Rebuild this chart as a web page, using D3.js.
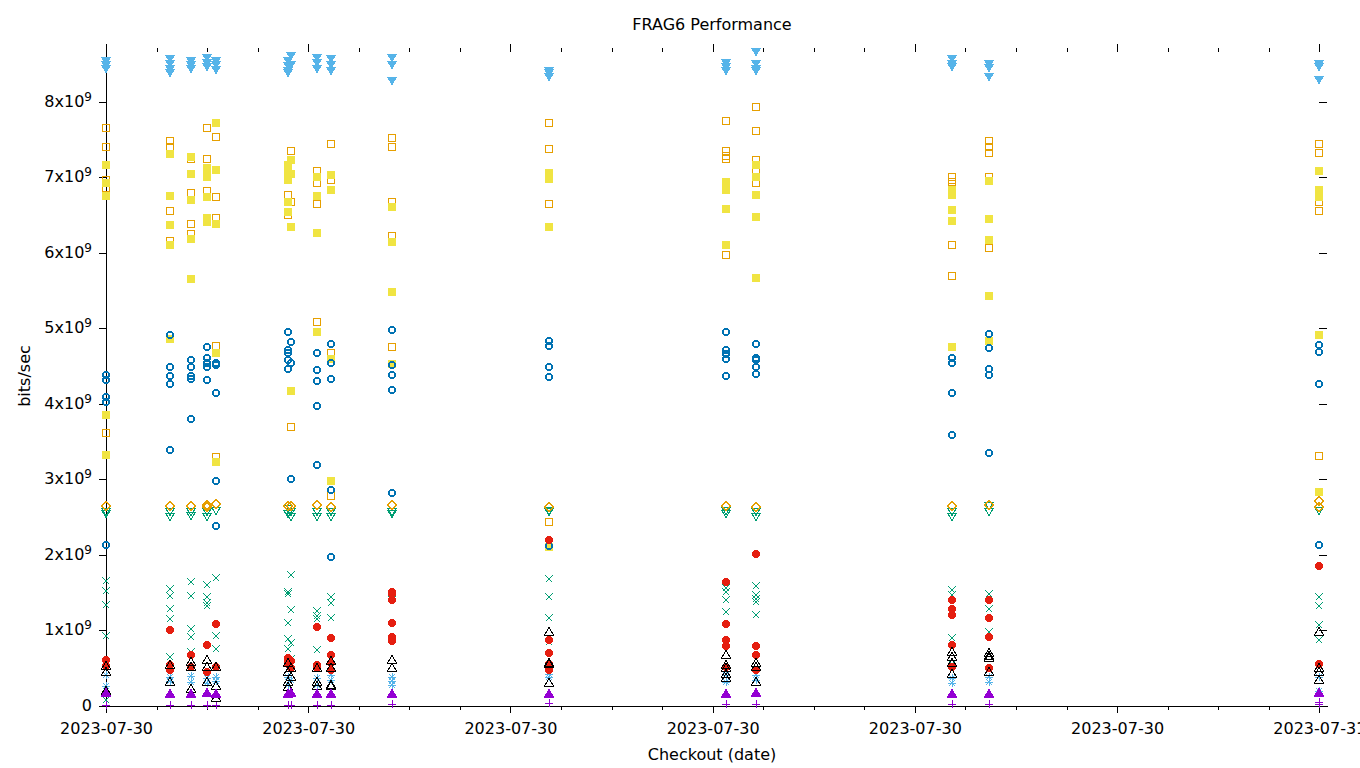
<!DOCTYPE html>
<html><head><meta charset="utf-8">
<script src="https://cdn.jsdelivr.net/npm/d3@7"></script>
<style>
html,body{margin:0;padding:0;background:#fff;}
text{font-family:"DejaVu Sans",sans-serif;fill:#000;}
</style></head>
<body>
<svg id="chart" width="1360" height="768"></svg>
<script>
// ---- data (values in units of 1e9 bits/sec) ----
const checkoutTimes = [
  "2023-07-30T00:00:00","2023-07-30T01:16:00","2023-07-30T01:41:00","2023-07-30T02:00:00",
  "2023-07-30T02:11:00","2023-07-30T03:36:00","2023-07-30T03:40:00","2023-07-30T04:10:00",
  "2023-07-30T04:27:00","2023-07-30T05:40:00","2023-07-30T08:46:00","2023-07-30T12:16:00",
  "2023-07-30T12:52:00","2023-07-30T16:44:00","2023-07-30T17:28:00","2023-07-31T00:00:00"
];
const yTickValues = [0,1,2,3,4,5,6,7,8];
const yTickLabels = ["0","1x10","2x10","3x10","4x10","5x10","6x10","7x10","8x10"];
const yTickExp = ["","9","9","9","9","9","9","9","9"];

const s1 = [[0.01],[0.01],[0.01],[0.01],[0.01],[0.01],[0.01],[0.01],[0.01],[0.02],[0.04],[0.03],[0.03],[0.03],[0.03],[0.05,0.02]];
const s2 = [[1.65,1.52,1.34,0.93,0.08],[1.55,1.46,1.28,1.15,0.65],[1.64,1.46,1.02,0.92,0.72],[1.60,1.45,1.36,1.32],
  [1.69,0.93,0.75],[1.51,1.48,1.10,0.89,0.75],[1.73,1.27,0.83,0.62],[1.26,1.19,1.15,0.74],
  [1.45,1.36,1.17],[1.40],[1.68,1.44,1.16,0.85],[1.56,1.51,1.40,1.24],
  [1.59,1.47,1.42,1.38,1.21],[1.54,1.47,0.90,0.55],[1.49,1.29,0.98],[1.45,1.32,1.07,0.88]];
const s3 = [[0.41,0.26],[0.38,0.33],[0.40,0.32],[0.37,0.30],[0.39,0.33],[0.38,0.28],[0.35],[0.37,0.28],
  [0.41,0.34],[0.38,0.33,0.28],[0.43,0.39],[0.41,0.32],[0.41,0.35],[0.37,0.30],[0.39,0.32],[0.39,0.20]];
const s4 = [[7.66,7.41,6.97,6.86,3.61],[7.48,7.40,6.55,6.16],[7.24,6.80,6.39,6.25],[7.65,7.25,6.82],
  [7.53,6.74,6.47,4.77,3.30],[6.77,6.50],[7.35,6.68,3.70],[7.08,6.93,6.65,5.08],
  [7.45,6.97,4.67,2.78],[7.52,7.41,6.68,6.22,4.75],[7.72,7.38,6.65,2.44],[7.75,7.35,7.29,7.24,5.97],
  [7.93,7.62,7.23,7.08,6.93],[7.00,6.94,6.88,6.11,5.70],[7.48,7.41,7.32,7.00,6.06],[7.44,7.32,6.68,6.56,3.31]];
const s5 = [[7.17,6.93,6.75,3.85,3.33],[7.31,6.75,6.37,6.10,4.86],[7.27,7.04,6.70,6.18,5.66],[7.12,7.05,7.01,6.74,6.46,6.41],
  [7.72,7.10,6.38,4.68,3.23],[7.17,7.07,6.97,6.67,6.54],[7.23,7.05,6.35,4.17],[7.01,6.75,6.26,4.96],
  [7.03,6.83,4.60,2.98],[6.61,6.15,5.48,4.53],[7.06,6.98,6.34,2.11],[6.94,6.88,6.83,6.58,6.11],
  [7.17,7.01,6.77,6.48,5.67],[6.83,6.77,6.57,6.43,4.76],[6.95,6.45,6.17,5.43,4.83],[7.09,6.83,6.74,4.91,2.83]];
const s6 = [[4.39,4.32,4.09,4.03,2.13],[4.92,4.49,4.37,4.26,3.39],[4.58,4.49,4.37,4.33,3.80],[4.75,4.61,4.54,4.49,4.32],
  [4.54,4.52,4.15,2.98,2.38],[4.95,4.71,4.67,4.58,4.47],[4.82,4.54,3.01],[4.68,4.45,4.30,3.97,3.19],
  [4.80,4.54,4.33,2.86,1.98],[4.98,4.52,4.39,4.18,2.82],[4.83,4.77,4.49,4.36,2.12],[4.96,4.72,4.66,4.60,4.37],
  [4.80,4.61,4.58,4.49,4.40],[4.61,4.54,4.15,3.59],[4.93,4.74,4.46,4.38,3.35],[4.78,4.69,4.26,2.13]];
const s7 = [[0.61,0.53],[1.00,0.54,0.48],[0.67,0.51],[0.81,0.45],[1.08,0.51],[0.64,0.59,0.55],[0.60,0.50],[1.05,0.54,0.50],
  [0.90,0.68,0.57,0.48],[1.51,1.48,1.40,1.10,0.92,0.86],[2.20,0.88,0.70,0.56,0.48],[1.64,1.08,0.88,0.79,0.52],
  [2.01,0.79,0.68,0.48],[1.40,1.29,1.21,0.81,0.52],[1.40,1.17,0.92,0.50],[1.85,0.56]];
const s8 = [[0.53,0.45,0.20],[0.54,0.32],[0.58,0.51,0.23],[0.61,0.52,0.32],[0.52,0.26,0.10],[0.57,0.45,0.32,0.25],[0.50,0.38],[0.50,0.32,0.26],
  [0.59,0.50,0.28,0.26],[0.61,0.50],[0.98,0.57,0.55,0.31],[0.68,0.54,0.50,0.43,0.37],
  [0.57,0.52,0.32],[0.72,0.65,0.57,0.43],[0.70,0.66,0.64,0.45],[0.98,0.50,0.45,0.34]];
const s9 = [[0.17],[0.16],[0.16],[0.17],[0.16],[0.16],[0.17],[0.16],[0.16],[0.16],[0.16],[0.16],[0.17],[0.16],[0.16],[0.17]];
const s10 = [[2.58,2.56],[2.58,2.52],[2.58,2.53],[2.58,2.52],[2.60],[2.62,2.55],[2.58,2.52],[2.58,2.52],
  [2.58,2.52],[2.58,2.56],[2.60,2.58],[2.60,2.55],[2.58,2.52],[2.58,2.52],[2.66,2.58],[2.60]];
const s11 = [[8.55,8.50,8.45],[8.58,8.52,8.45,8.40],[8.55,8.50,8.45],[8.60,8.53,8.47],[8.55,8.50,8.44],[8.56,8.49,8.42,8.40],[8.62,8.50],[8.60,8.53,8.45],
  [8.58,8.50,8.42],[8.60,8.50,8.29],[8.43,8.40,8.35],[8.53,8.47,8.42],[8.68,8.52,8.45,8.42],[8.58,8.52,8.47],[8.51,8.46,8.35],[8.52,8.48,8.30]];
const s12 = [[2.65],[2.65],[2.65],[2.66,2.63],[2.68],[2.65],[2.65],[2.66],[2.64],[2.66],[2.64],[2.65],[2.64],[2.65],[2.66],[2.71,2.64]];

const series = [
  {data:s1, color:"#9400d3", shape:"plus"},
  {data:s2, color:"#009e73", shape:"cross"},
  {data:s3, color:"#56b4e9", shape:"star"},
  {data:s4, color:"#e69f00", shape:"square", filled:false},
  {data:s5, color:"#f0e442", shape:"square", filled:true},
  {data:s6, color:"#0072b2", shape:"circle", filled:false},
  {data:s7, color:"#e51e10", shape:"circle", filled:true},
  {data:s8, color:"#000000", shape:"tri", filled:false},
  {data:s9, color:"#9400d3", shape:"tri", filled:true},
  {data:s10, color:"#009e73", shape:"itri", filled:false},
  {data:s11, color:"#56b4e9", shape:"itri", filled:true},
  {data:s12, color:"#e69f00", shape:"diamond", filled:false}
];

// ---- drawing ----
const svg = d3.select("#chart");
const parse = d3.timeParse("%Y-%m-%dT%H:%M:%S");
const x = d3.scaleTime()
  .domain([parse("2023-07-30T00:00:00"), parse("2023-07-31T00:09:10")])
  .range([106, 1327]);
const y = d3.scaleLinear().domain([0, 8.768]).range([706, 44]);

const majorTicks = d3.timeHour.every(4).range(parse("2023-07-30T00:00:00"), parse("2023-07-31T00:01:00"));
const minorTicks = d3.timeHour.every(1).range(parse("2023-07-30T00:00:00"), parse("2023-07-31T00:01:00"));
const FS = 16;

// bottom axis
const gx = svg.append("g").attr("transform","translate(0,706)")
  .call(d3.axisBottom(x).tickValues(majorTicks).tickFormat(d3.timeFormat("%Y-%m-%d")).tickSize(7).tickSizeOuter(0));
gx.selectAll("text").attr("font-size",FS).attr("dy",null).attr("y",28);
svg.append("g").attr("transform","translate(0,706)")
  .call(d3.axisBottom(x).tickValues(minorTicks).tickFormat("").tickSize(4).tickSizeOuter(0))
  .select(".domain").remove();
// top mirror ticks
const gt = svg.append("g").attr("transform","translate(0,52)")
  .call(d3.axisTop(x).tickValues(majorTicks).tickFormat("").tickSize(8));
gt.select(".domain").remove();
const gt2 = svg.append("g").attr("transform","translate(0,52)")
  .call(d3.axisTop(x).tickValues(minorTicks).tickFormat("").tickSize(4));
gt2.select(".domain").remove();

// left axis
const gy = svg.append("g").attr("transform","translate(106,0)")
  .call(d3.axisLeft(y).tickValues(yTickValues).tickFormat("").tickSize(7).tickSizeOuter(0));
yTickValues.forEach((v,i)=>{
  const t = svg.append("text").attr("x",92).attr("y",y(v)+5).attr("text-anchor","end").attr("font-size",FS);
  t.append("tspan").text(yTickLabels[i]);
  if (yTickExp[i]) t.append("tspan").attr("dy",-6).attr("font-size",12).text(yTickExp[i]);
});
// right mirror ticks
const gr = svg.append("g").attr("transform","translate(1319,0)")
  .call(d3.axisRight(y).tickValues(yTickValues.slice(1)).tickFormat("").tickSize(8));
gr.select(".domain").remove();

svg.selectAll(".domain, .tick line").attr("stroke","#000").attr("shape-rendering","crispEdges");

// titles
svg.append("text").attr("x",712).attr("y",30).attr("text-anchor","middle").attr("font-size",FS).text("FRAG6 Performance");
svg.append("text").attr("x",712).attr("y",760).attr("text-anchor","middle").attr("font-size",FS).text("Checkout (date)");
svg.append("text").attr("transform","translate(30,376) rotate(-90)").attr("text-anchor","middle").attr("font-size",FS).text("bits/sec");

// markers
const shapes = {
  plus: "M-4,0H4M0,-4V4",
  cross: "M-3.5,-3.5L3.5,3.5M-3.5,3.5L3.5,-3.5",
  star: "M-4,0H4M0,-4V4M-3,-3L3,3M-3,3L3,-3",
  square: "M-3.5,-3.5H3.5V3.5H-3.5Z",
  circle: "M3.3,0A3.3,3.3 0 1,1 -3.3,0A3.3,3.3 0 1,1 3.3,0Z",
  tri: "M0,-4.5L4.5,3L-4.5,3Z",
  itri: "M0,4.5L4.5,-3L-4.5,-3Z",
  diamond: "M0,-4.5L4.5,0L0,4.5L-4.5,0Z"
};
const plot = svg.append("g").attr("shape-rendering","crispEdges");
series.forEach(s=>{
  const pts = [];
  s.data.forEach((vals,i)=>vals.forEach(v=>pts.push({t:parse(checkoutTimes[i]), v})));
  plot.append("g").selectAll("path").data(pts).join("path")
    .attr("transform",d=>`translate(${Math.round(x(d.t))},${Math.round(y(d.v))})`)
    .attr("d",shapes[s.shape])
    .attr("fill", s.filled ? s.color : "none")
    .attr("stroke", s.color)
    .attr("stroke-width", s.shape==="circle" && !s.filled ? 1.5 : 1);
});
</script>
</body></html>
